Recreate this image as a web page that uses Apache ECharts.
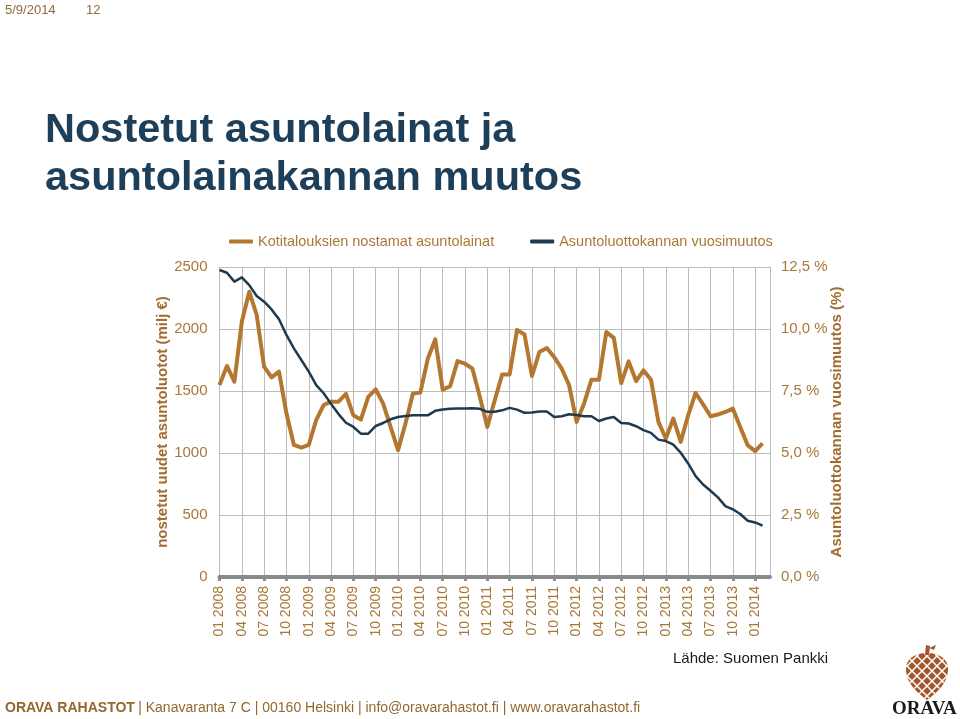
<!DOCTYPE html>
<html>
<head>
<meta charset="utf-8">
<script src="https://cdn.jsdelivr.net/npm/echarts@6/dist/echarts.min.js"></script>
<style>
html,body{margin:0;padding:0;background:#fff;}
#chart{width:960px;height:719px;}
</style>
</head>
<body>
<div id="chart"></div>
<script>
var categories = [
'01 2008','02 2008','03 2008','04 2008','05 2008','06 2008','07 2008','08 2008','09 2008','10 2008','11 2008','12 2008',
'01 2009','02 2009','03 2009','04 2009','05 2009','06 2009','07 2009','08 2009','09 2009','10 2009','11 2009','12 2009',
'01 2010','02 2010','03 2010','04 2010','05 2010','06 2010','07 2010','08 2010','09 2010','10 2010','11 2010','12 2010',
'01 2011','02 2011','03 2011','04 2011','05 2011','06 2011','07 2011','08 2011','09 2011','10 2011','11 2011','12 2011',
'01 2012','02 2012','03 2012','04 2012','05 2012','06 2012','07 2012','08 2012','09 2012','10 2012','11 2012','12 2012',
'01 2013','02 2013','03 2013','04 2013','05 2013','06 2013','07 2013','08 2013','09 2013','10 2013','11 2013','12 2013',
'01 2014','02 2014','03 2014'
];

var loans = [
1548,1702,1575,2059,2301,2113,1696,1610,1656,1320,1065,1043,
1065,1266,1387,1414,1414,1476,1304,1269,1452,1513,1398,1210,
1023,1237,1479,1487,1760,1916,1511,1538,1741,1720,1680,1452,
1210,1425,1634,1634,1993,1956,1621,1814,1846,1773,1680,1546,
1251,1398,1591,1591,1975,1929,1564,1739,1580,1666,1591,1251,
1117,1278,1090,1304,1484,1393,1296,1310,1331,1358,1210,1063,
1015,1077,null
];

var growth = [
12.38,12.27,11.91,12.08,11.77,11.33,11.10,10.79,10.39,9.76,9.22,8.75,
8.28,7.74,7.41,6.98,6.57,6.22,6.05,5.78,5.78,6.09,6.21,6.36,
6.45,6.49,6.52,6.52,6.52,6.70,6.75,6.78,6.79,6.79,6.80,6.78,
6.66,6.66,6.72,6.82,6.75,6.62,6.63,6.67,6.67,6.45,6.48,6.56,
6.53,6.48,6.48,6.29,6.39,6.45,6.21,6.19,6.08,5.92,5.81,5.54,
5.48,5.34,5.01,4.58,4.07,3.73,3.48,3.21,2.86,2.73,2.54,2.27,
2.20,2.07,null
];

var seriesNames = ['Kotitalouksien nostamat asuntolainat', 'Asuntoluottokannan vuosimuutos'];
var leftTicks = [0, 500, 1000, 1500, 2000, 2500];
var rightTicks = [0, 2.5, 5, 7.5, 10, 12.5];

var brown = '#A87838';
var orange = '#B4772F';
var navy = '#1F3A4F';
var FONT = '"Liberation Sans", Arial, sans-serif';

// ---- pinecone logo decoration ----
var coneColor = '#A5552A';
function bez(p0, p1, p2, p3, n) {
  var pts = [];
  for (var k = 0; k <= n; k++) {
    var t = k / n, u = 1 - t;
    pts.push([u*u*u*p0[0] + 3*u*u*t*p1[0] + 3*u*t*t*p2[0] + t*t*t*p3[0],
              u*u*u*p0[1] + 3*u*u*t*p1[1] + 3*u*t*t*p2[1] + t*t*t*p3[1]]);
  }
  return pts;
}
var conePts = [].concat(
  bez([927,700],[916,692],[906,682],[906,669],12),
  bez([906,669],[906,659],[915,653],[927,653],12),
  bez([927,653],[939,653],[948,659],[948,669],12),
  bez([948,669],[948,682],[938,692],[927,700],12)
);
function inside(x, y) {
  var c = false;
  for (var i = 0, j = conePts.length - 1; i < conePts.length; j = i++) {
    var a = conePts[i], b = conePts[j];
    if (((a[1] > y) !== (b[1] > y)) && (x < (b[0] - a[0]) * (y - a[1]) / (b[1] - a[1]) + a[0])) c = !c;
  }
  return c;
}
var cone = [{type:'polygon', shape:{points: conePts}, style:{fill: coneColor}}];
[-30,-20,-10,0,10,20,30].forEach(function(o){
  [1,-1].forEach(function(dir){
    var seg = [];
    for (var s = 0; s <= 60; s += 0.25) {
      var x = dir > 0 ? 897 + o + s : 957 - o - s;
      var y = 646 + s;
      if (inside(x, y)) seg.push([x, y]);
    }
    if (seg.length > 1) cone.push({type:'line', shape:{x1:seg[0][0], y1:seg[0][1], x2:seg[seg.length-1][0], y2:seg[seg.length-1][1]}, style:{stroke:'#ffffff', lineWidth:1.6}});
  });
});
cone.push({type:'polygon', shape:{points:[[925,655],[929,655],[930,646],[926,645]]}, style:{fill:coneColor}});
cone.push({type:'polygon', shape:{points:[[929,648],[936,645],[934,650]]}, style:{fill:coneColor}});

var chart = echarts.init(document.getElementById('chart'), null, {renderer:'canvas'});
chart.setOption({
  animation: false,
  backgroundColor: '#ffffff',
  title: {
    text: 'Nostetut asuntolainat ja\nasuntolainakannan muutos',
    left: 40, top: 102,
    textStyle: {fontFamily: FONT, fontSize: 41.5, fontWeight: 'bold', color: '#1E3F5A', lineHeight: 48}
  },
  legend: {
    left: 224, top: 229,
    itemWidth: 24, itemHeight: 4, itemGap: 36,
    icon: 'roundRect',
    textStyle: {fontFamily: FONT, fontSize: 14.5, color: brown},
    data: seriesNames
  },
  grid: {left: 219.5, right: 190, top: 267, bottom: 142, containLabel: false},
  xAxis: {
    type: 'category',
    data: categories,
    boundaryGap: false,
    axisLine: {show: true, onZero: false, lineStyle: {color: '#8a8a8a', width: 4}},
    axisTick: {show: true, interval: 2, length: 4, lineStyle: {color: '#8a8a8a', width: 3}},
    axisLabel: {interval: 2, rotate: 90, margin: 9, fontFamily: FONT, fontSize: 14, color: brown},
    splitLine: {show: true, interval: function(i){ return i % 3 === 0 || i === categories.length - 1; }, lineStyle: {color: '#bcbcbc', width: 1}}
  },
  yAxis: [
    {
      type: 'value', min: 0, max: 2500, interval: 500,
      name: 'nostetut uudet asuntoluotot (milj €)',
      nameLocation: 'middle', nameRotate: 90, nameGap: 49, nameMoveOverlap: false,
      nameTextStyle: {fontFamily: FONT, fontSize: 15, fontWeight: 'bold', color: '#A06C30'},
      axisLine: {show: false}, axisTick: {show: false},
      axisLabel: {margin: 12, fontFamily: FONT, fontSize: 15, color: brown,
        formatter: function(v){ return leftTicks.indexOf(v) >= 0 ? String(v) : ''; }},
      splitLine: {show: true, lineStyle: {color: '#bdbdbd', width: 1}}
    },
    {
      type: 'value', min: 0, max: 12.5, interval: 2.5,
      name: 'Asuntoluottokannan vuosimuutos (%)',
      nameLocation: 'middle', nameRotate: 90, nameGap: 59, nameMoveOverlap: false,
      nameTextStyle: {fontFamily: FONT, fontSize: 15, fontWeight: 'bold', color: '#A06C30'},
      axisLine: {show: false}, axisTick: {show: false},
      axisLabel: {margin: 11, fontFamily: FONT, fontSize: 15, color: brown,
        formatter: function(v){ return rightTicks.indexOf(v) >= 0 ? v.toFixed(1).replace('.', ',') + ' %' : ''; }},
      splitLine: {show: false}
    }
  ],
  series: [
    {
      name: seriesNames[0], type: 'line', yAxisIndex: 0, data: loans,
      showSymbol: false, symbol: 'none', smooth: false,
      lineStyle: {color: orange, width: 4, join: 'round'},
      itemStyle: {color: orange}, z: 3
    },
    {
      name: seriesNames[1], type: 'line', yAxisIndex: 1, data: growth,
      showSymbol: false, symbol: 'none', smooth: false,
      lineStyle: {color: navy, width: 2.5, join: 'round'},
      itemStyle: {color: navy}, z: 4
    }
  ],
  graphic: [
    {type:'text', left: 5, top: 4, style:{text:'5/9/2014', font:'13px "Liberation Sans", Arial, sans-serif', fill:'#8D6B3E'}},
    {type:'text', left: 86, top: 4, style:{text:'12', font:'13px "Liberation Sans", Arial, sans-serif', fill:'#8D6B3E'}},
    {type:'text', left: 673, top: 651, style:{text:'Lähde: Suomen Pankki', font:'15px "Liberation Sans", Arial, sans-serif', fill:'#1a1a1a'}},
    {type:'text', left: 5, top: 701, style:{
      text:'{b|ORAVA RAHASTOT} {n|| Kanavaranta 7 C | 00160 Helsinki | info@oravarahastot.fi | www.oravarahastot.fi}',
      rich:{
        b:{fontFamily: FONT, fontSize: 14, fontWeight:'bold', fill:'#94672E'},
        n:{fontFamily: FONT, fontSize: 14, fill:'#94672E'}
      }
    }},
    {type:'group', children: cone},
    {type:'text', left: 892, top: 700, style:{text:'ORAVA', font:'bold 19px "Liberation Serif", "Times New Roman", serif', fill:'#1a1a1a'}}
  ]
});
</script>
</body>
</html>
